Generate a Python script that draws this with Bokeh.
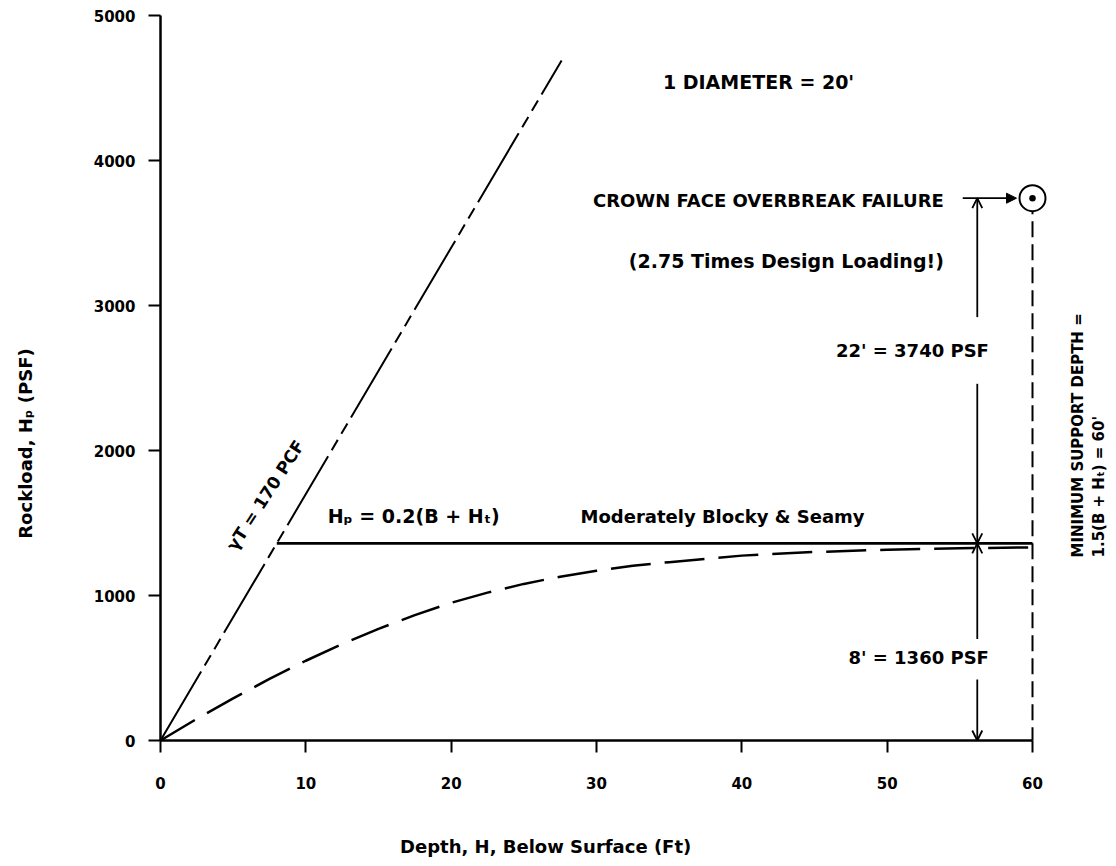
import math
from bokeh.plotting import figure
from bokeh.models import Range1d, FixedTicker, Arrow, OpenHead, NormalHead, Label
from bokeh.embed import file_html
from bokeh.resources import INLINE

FONT = "DejaVu Sans"

# ---------------- data ----------------
x_ticks = [0, 10, 20, 30, 40, 50, 60]
y_ticks = [0, 1000, 2000, 3000, 4000, 5000]

# rock column load line (gamma_T = 170 pcf)
rock_depth = [0, 8, 27.6]
rock_load = [0, 1360, 4690]

# design rock load plateau, Hp = 0.2(B + Ht)
plateau_depth = [8, 60]
plateau_load = [1360, 1360]

# dashed load development curve
curve_depth = [0, 2.5, 5, 7.5, 10, 12.5, 15, 17.5, 20, 22.5, 25, 27.5, 30,
               32.5, 35, 40, 45, 50, 55, 60]
curve_load = [0, 150, 290, 425, 550, 665, 770, 865, 950, 1020, 1080, 1130,
              1170, 1205, 1230, 1275, 1300, 1316, 1326, 1332]

design_load = 1360
failure_load = 3740
support_depth = 60

# ---------------- layout (pixels) ----------------
W, H = 1110, 860
X0_PX, X60_PX = 160, 1032      # screen x of depth 0 and 60
Y0_PX, Y5000_PX = 740, 15      # screen y of load 0 and 5000
sx = (X60_PX - X0_PX) / 60.0
sy = (Y0_PX - Y5000_PX) / 5000.0
x_range = Range1d(-X0_PX / sx, (W - X0_PX) / sx)
y_range = Range1d(-(H - Y0_PX) / sy, Y0_PX / sy)

p = figure(width=W, height=H, x_range=x_range, y_range=y_range,
           output_backend="svg", toolbar_location=None,
           min_border=0, min_border_left=0, min_border_right=0,
           min_border_top=0, min_border_bottom=0)
p.outline_line_color = None
p.grid.visible = False
p.background_fill_color = "white"
p.border_fill_color = "white"

for ax, ticks, bnds, standoff in ((p.xaxis[0], x_ticks, (0, 60), 24),
                                  (p.yaxis[0], y_ticks, (0, 5000), 13)):
    ax.fixed_location = 0
    ax.ticker = FixedTicker(ticks=ticks)
    ax.bounds = bnds
    ax.axis_line_width = 2.5
    ax.axis_line_color = "black"
    ax.major_tick_line_width = 2
    ax.major_tick_line_color = "black"
    ax.major_tick_out = 12
    ax.major_tick_in = 0
    ax.minor_tick_out = 0
    ax.minor_tick_in = 0
    ax.major_label_text_font = FONT
    ax.major_label_text_font_size = "15px"
    ax.major_label_text_font_style = "bold"
    ax.major_label_text_color = "black"
    ax.major_label_standoff = standoff

# lines
p.line(rock_depth, rock_load, line_color="black", line_width=2,
       line_dash="80 7 12 7 12 7")
p.line(plateau_depth, plateau_load, line_color="black", line_width=2.8)
p.line(curve_depth, curve_load, line_color="black", line_width=2.5,
       line_dash="40 14")
p.line([support_depth, support_depth], [failure_load, 0], line_color="black",
       line_width=2, line_dash="16 7")
p.scatter([support_depth], [failure_load], marker="circle_dot", size=26,
          fill_color="white", line_color="black", line_width=2)

# dimension arrows (x position of the arrows, gaps around the texts)
dim_x = 56.2
segments = [
    (2920, failure_load),
    (2460, design_load),
    (700, design_load),
    (420, 0),
]
for y0, y1 in segments:
    p.add_layout(Arrow(x_start=dim_x, y_start=y0, x_end=dim_x, y_end=y1,
                       line_color="black", line_width=1.8,
                       end=OpenHead(size=10, line_width=1.8, line_color="black")))

# pointer to failure circle
p.add_layout(Arrow(x_start=55.2, y_start=failure_load, x_end=58.9, y_end=failure_load,
                   line_color="black", line_width=1.8,
                   end=NormalHead(size=10, fill_color="black", line_color="black")))

# ---------------- text ----------------
notes = [
    ("1 DIAMETER = 20'", 41.15, 4538, "center", 0, 19),
    ("CROWN FACE OVERBREAK FAILURE", 53.9, 3724, "right", 0, 18),
    ("(2.75 Times Design Loading!)", 53.9, 3310, "right", 0, 19),
    ("22' = 3740 PSF", 57.0, 2690, "right", 0, 18),
    ("8' = 1360 PSF", 57.0, 575, "right", 0, 18),
    ("H\u209a = 0.2(B + H\u209c)", 11.5, 1550, "left", 0, 19),
    ("Moderately Blocky & Seamy", 28.9, 1545, "left", 0, 18),
    ("\u03b3T = 170 PCF", 7.22, 1690, "center", 57, 17),
    ("MINIMUM SUPPORT DEPTH =", 63.1, 1262, "left", 90, 15),
    ("1.5(B + H\u209c) = 60'", 64.6, 1262, "left", 90, 15),
    ("Depth, H, Below Surface (Ft)", 26.5, -730, "center", 0, 18),
    ("Rockload, H\u209a (PSF)", -9.3, 2048, "center", 90, 18),
]
for txt, x, y, align, ang, size in notes:
    p.add_layout(Label(x=x, y=y, text=txt, text_align=align,
                       text_baseline="middle", angle=math.radians(ang),
                       text_font=FONT, text_font_size=f"{size}px",
                       text_font_style="bold", text_color="black"))

open("out.html", "w").write(file_html(p, INLINE))
